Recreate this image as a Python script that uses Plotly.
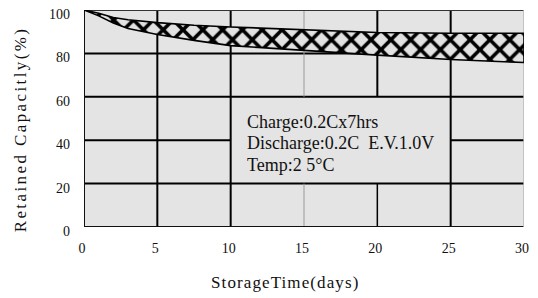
import plotly.graph_objects as go

# Data
days = [0, 1, 2, 3, 5, 7.5, 10, 15, 20, 25, 30]
upper_capacity = [100, 98.5, 96.5, 95.5, 94.2, 93.0, 92.2, 90.8, 89.6, 89.3, 89.3]
lower_capacity = [100, 97.3, 94.0, 91.5, 88.7, 86.0, 83.6, 81.4, 79.2, 77.2, 75.8]
x_ticks = [0, 5, 10, 15, 20, 25, 30]
y_ticks = [0, 20, 40, 60, 80, 100]
note_lines = ["Charge:0.2Cx7hrs", "Discharge:0.2C  E.V.1.0V", "Temp:2 5\u00b0C"]
note_y = [48.4, 38.7, 28.6]
x_title = "StorageTime(days)"
y_title = "Retained Capacitly(%)"

BG = "#e4e4e4"
SERIF = "Liberation Serif"

fig = go.Figure()

# Band between upper and lower curves as a closed polygon
poly_x = days + days[::-1] + [days[0]]
poly_y = upper_capacity + lower_capacity[::-1] + [upper_capacity[0]]
fig.add_trace(go.Scatter(
    x=poly_x, y=poly_y, mode="lines", fill="toself",
    line=dict(color="black", width=1.6),
    fillcolor="rgba(0,0,0,0)",
    fillpattern=dict(shape="x", fgcolor="#000000", fgopacity=1, bgcolor="#e2e2e2",
                     size=14, solidity=0.45),
    hoverinfo="skip", showlegend=False,
))

shapes = []
def vline(x, y0, y1, color="black", width=2):
    shapes.append(dict(type="line", xref="x", yref="y", x0=x, x1=x, y0=y0, y1=y1,
                       line=dict(color=color, width=width), layer="below"))
def hline(y, x0, x1, color="black", width=2):
    shapes.append(dict(type="line", xref="x", yref="y", x0=x0, x1=x1, y0=y, y1=y,
                       line=dict(color=color, width=width), layer="below"))

# Grid lines (interrupted by the note box region x 10..25, y 20..60)
hline(80, 0, 30)
hline(60, 0, 30)
hline(40, 0, 10)
hline(40, 25, 30)
hline(20, 0, 30)
vline(5, 0, 100)
vline(10, 0, 100)
vline(15, 60, 100, color="#9a9a9a", width=1)
vline(15, 0, 20, color="#9a9a9a", width=1)
vline(20, 60, 100, width=2)
vline(20, 0, 20, width=1.5)
vline(25, 0, 100)
# Frame
hline(100, 0, 30, color="#333333", width=2)
hline(0, 0, 30, color="#111111", width=2)
vline(0, 0, 100, color="#111111", width=2)
vline(30, 0, 100, color="#b8b8b8", width=1.5)

annotations = [dict(
    x=11.0, y=yv, xref="x", yref="y", xanchor="left", yanchor="middle",
    text=t, showarrow=False, align="left",
    font=dict(family=SERIF, size=18, color="#111111"),
) for t, yv in zip(note_lines, note_y)]

# Figure spans 522x290 (placed 8px in from the page corner)
annotations.append(dict(
    x=0.457, y=-0.258, xref="paper", yref="paper", xanchor="center", yanchor="middle",
    text='<span style="letter-spacing:1.1px">' + x_title + '</span>', showarrow=False,
    font=dict(family=SERIF, size=17, color="#111111"),
))
annotations.append(dict(
    x=-0.1455, y=0.45, xref="paper", yref="paper", xanchor="center", yanchor="middle",
    text='<span style="letter-spacing:2.4px">' + y_title + '</span>', showarrow=False,
    textangle=-90, font=dict(family=SERIF, size=17, color="#111111"),
))

fig.update_layout(
    width=522, height=290,
    margin=dict(l=76, r=6, t=2, b=71),
    paper_bgcolor="white", plot_bgcolor=BG,
    shapes=shapes, annotations=annotations,
    font=dict(family=SERIF, color="#111111"),
    xaxis=dict(range=[0, 30], tickvals=x_ticks, showgrid=False, zeroline=False,
               showline=False, ticks="", tickfont=dict(size=14), ticklabelstandoff=11,
               ticklabelshift=-2, ticklabeloverflow="allow", automargin=False),
    yaxis=dict(range=[0, 100], tickvals=y_ticks, showgrid=False, zeroline=False,
               showline=False, ticks="", tickfont=dict(size=14), ticklabelstandoff=13,
               ticklabelshift=4, ticklabeloverflow="allow", automargin=False),
)

fig.write_html("out.html")
